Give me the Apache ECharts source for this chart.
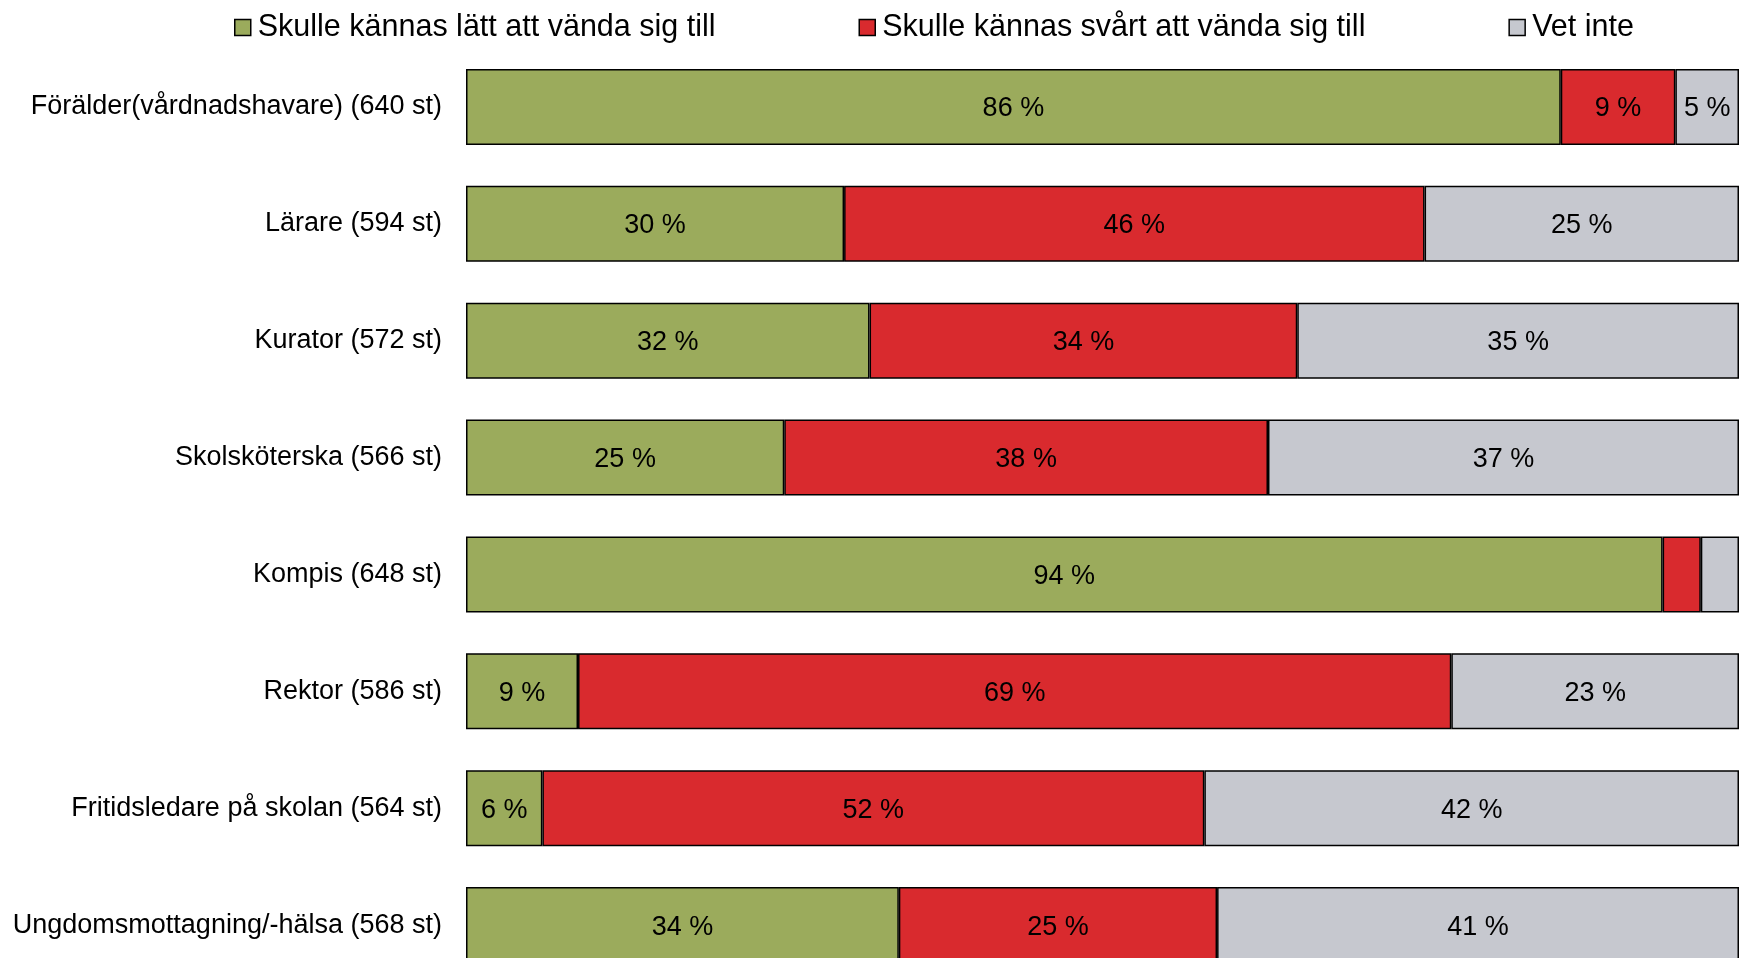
<!DOCTYPE html>
<html>
<head>
<meta charset="utf-8">
<script src="https://cdn.jsdelivr.net/npm/echarts@6/dist/echarts.min.js"></script>
<style>
  html, body { margin: 0; padding: 0; background: #fff; }
  #main { width: 1748px; height: 958px; }
</style>
</head>
<body>
<div id="main"></div>
<script>
var kategorier = [
    'Förälder(vårdnadshavare) (640 st)',
    'Lärare (594 st)',
    'Kurator (572 st)',
    'Skolsköterska (566 st)',
    'Kompis (648 st)',
    'Rektor (586 st)',
    'Fritidsledare på skolan (564 st)',
    'Ungdomsmottagning/-hälsa (568 st)'
];
// andelar i procent
var latt   = [86.0, 29.7, 31.7, 25.0, 94.0, 8.8, 6.0, 34.0];
var svart  = [9.0, 45.6, 33.6, 38.0, 3.0, 68.6, 52.0, 25.0];
var vetInte = [5.0, 24.7, 34.7, 37.0, 3.0, 22.6, 42.0, 41.0];

var font = '"Liberation Sans", Arial, sans-serif';

var myChart = echarts.init(document.getElementById('main'));

function serie(namn, data, farg) {
    return {
        name: namn,
        type: 'bar',
        stack: 'tot',
        data: data,
        barWidth: 76,
        itemStyle: { color: farg, borderColor: '#000', borderWidth: 1.5 },
        label: {
            show: true,
            position: 'inside',
            offset: [0, 2],
            color: '#000',
            fontFamily: font,
            fontSize: 27,
            formatter: function (p) {
                return p.value < 4 ? '' : Math.round(p.value) + ' %';
            }
        }
    };
}

var option = {
    animation: false,
    backgroundColor: '#fff',
    legend: {
        left: 229,
        top: 7,
        width: 1500,
        itemWidth: 16,
        itemHeight: 16,
        itemGap: 143,
        icon: 'rect',
        textStyle: { fontFamily: font, fontSize: 30.5, color: '#000', padding: [0, 0, 0, 2] },
        itemStyle: { borderColor: '#000', borderWidth: 1.5 }
    },
    grid: { left: 466, right: 9, top: 48.5, bottom: -25.5, outerBoundsMode: 'none', containLabel: false },
    xAxis: { type: 'value', min: 0, max: 100, show: false },
    yAxis: {
        type: 'category',
        inverse: true,
        data: kategorier,
        axisLine: { show: false },
        axisTick: { show: false },
        axisLabel: { color: '#000', fontFamily: font, fontSize: 27, margin: 24, padding: [4, 0, 0, 0] }
    },
    series: [
        serie('Skulle kännas lätt att vända sig till', latt, '#9bab5c'),
        serie('Skulle kännas svårt att vända sig till', svart, '#d92a2e'),
        serie('Vet inte', vetInte, '#c6c8cf')
    ]
};

myChart.setOption(option);
</script>
</body>
</html>
